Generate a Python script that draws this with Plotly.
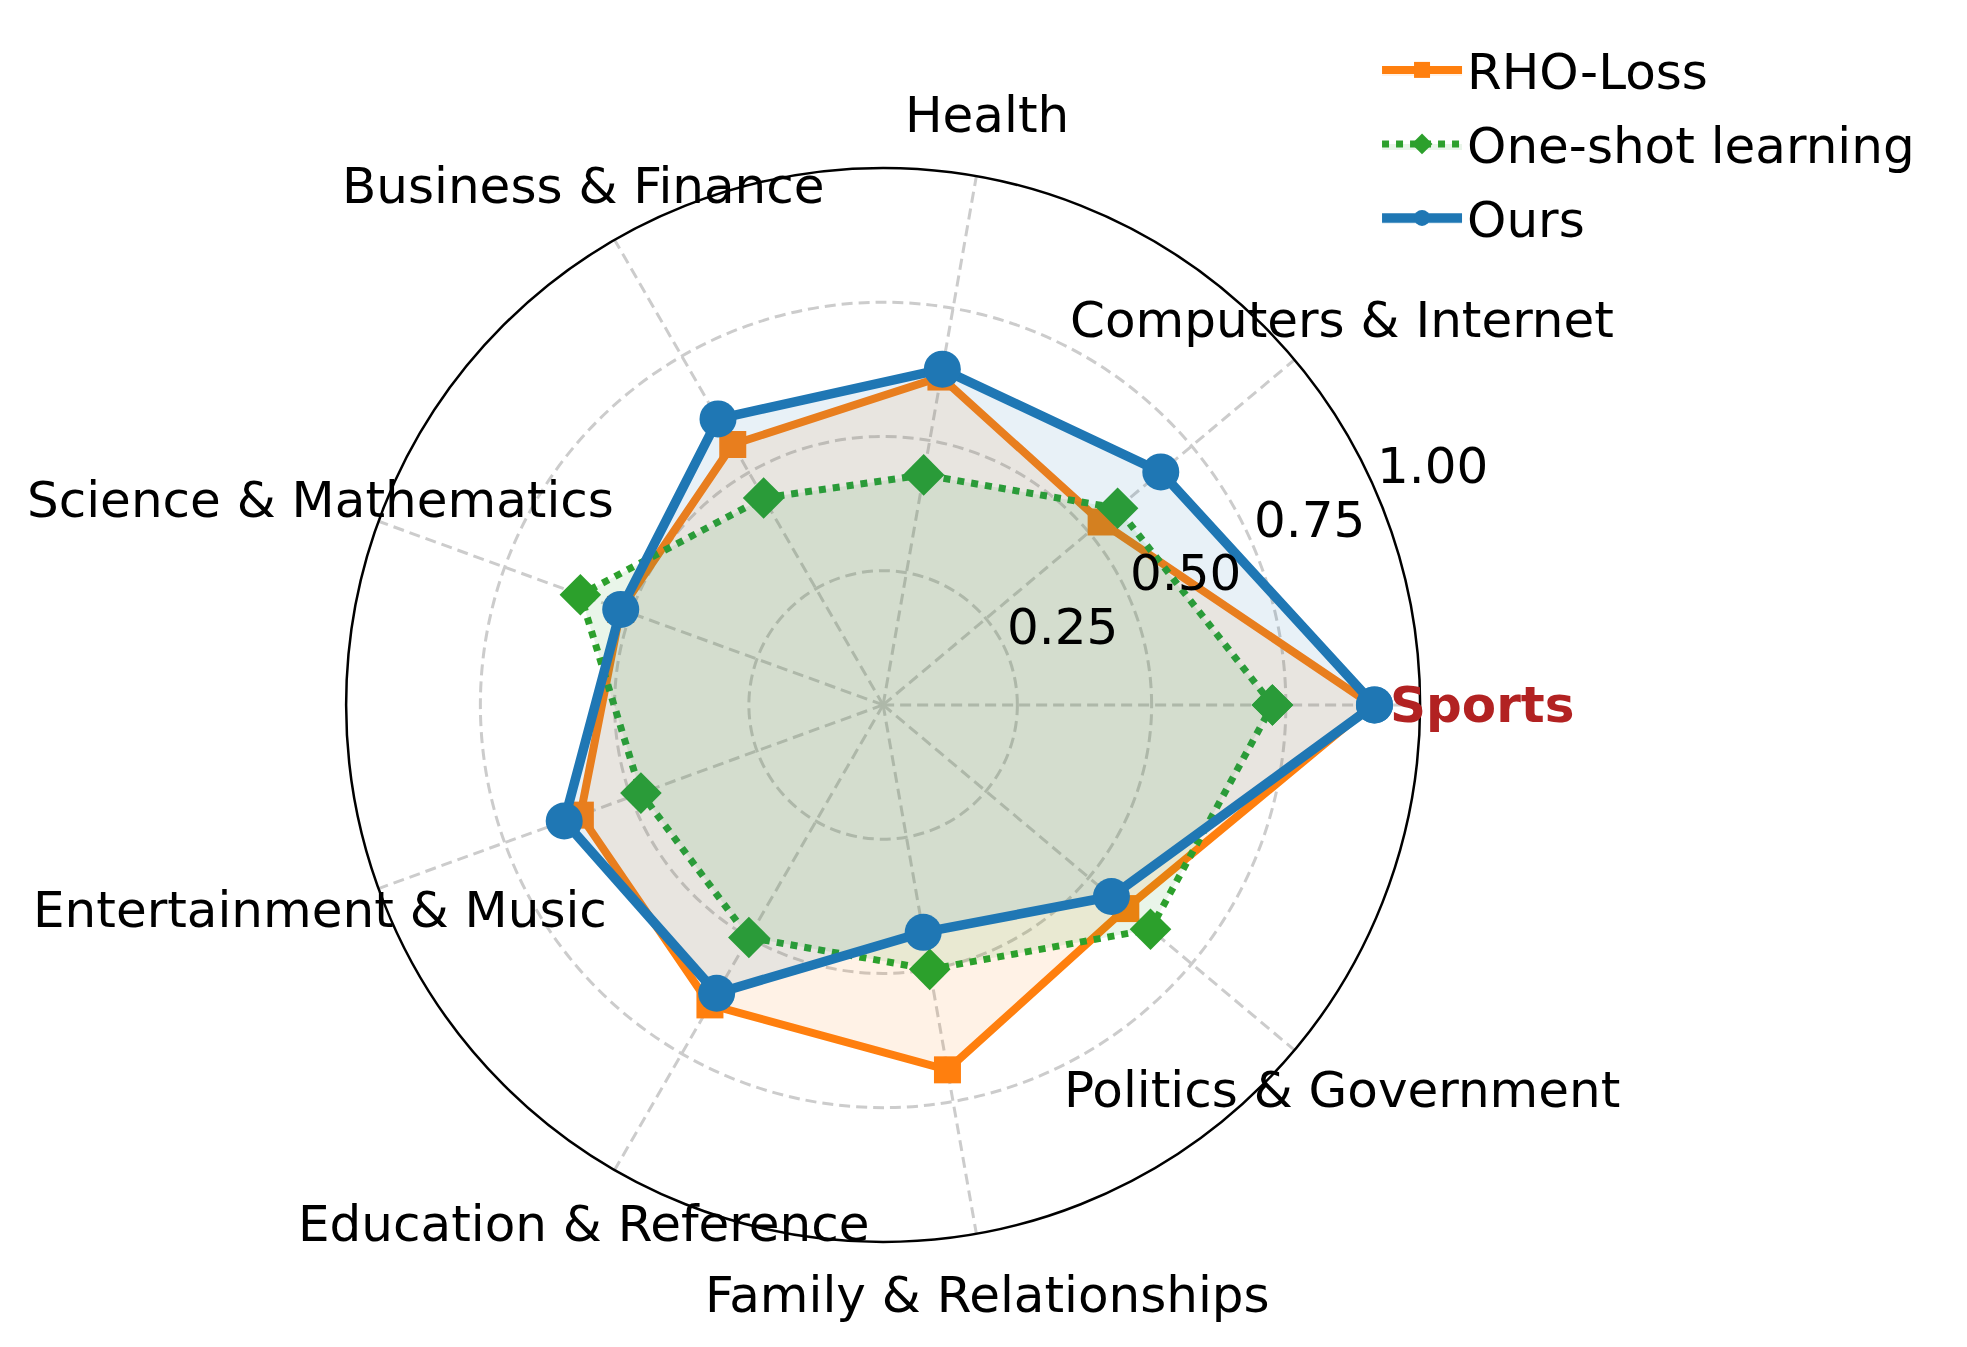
import math
import plotly.graph_objects as go

categories = ['Sports', 'Computers & Internet', 'Health', 'Business & Finance',
              'Science & Mathematics', 'Entertainment & Music', 'Education & Reference',
              'Family & Relationships', 'Politics & Government']
rho_loss = [0.91, 0.53, 0.62, 0.56, 0.52, 0.60, 0.645, 0.69, 0.59]
one_shot = [0.725, 0.57, 0.435, 0.445, 0.60, 0.48, 0.50, 0.50, 0.65]
ours = [0.915, 0.675, 0.635, 0.615, 0.52, 0.632, 0.62, 0.43, 0.555]
r_ticks = [0.25, 0.5, 0.75, 1.0]

step = 360 / len(categories)
angles = [i * step for i in range(len(categories))]

FONT = 'DejaVu Sans'
FONT_SIZE = 50
LABEL_PAD = 0.115  # matplotlib-like offset of labels beyond their radius
DOMAIN_X = [0.1719, 0.7179]
DOMAIN_Y = [0.0839, 0.8813]


def closed(vals):
    return list(vals) + [vals[0]]


def polar_to_paper(r, deg):
    cx, cy = sum(DOMAIN_X) / 2, sum(DOMAIN_Y) / 2
    rx, ry = (DOMAIN_X[1] - DOMAIN_X[0]) / 2, (DOMAIN_Y[1] - DOMAIN_Y[0]) / 2
    a = math.radians(deg)
    return cx + rx * r * math.cos(a), cy + ry * r * math.sin(a)


series = [
    ('RHO-Loss', rho_loss, '#ff7f0e', 'square', 27, 'solid', 8),
    ('One-shot learning', one_shot, '#2ca02c', 'diamond', 32, 'dot', 7),
    ('Ours', ours, '#1f77b4', 'circle', 37, 'solid', 9.5),
]

fill_rgba = {'#ff7f0e': 'rgba(255,127,14,0.1)',
             '#2ca02c': 'rgba(44,160,44,0.1)',
             '#1f77b4': 'rgba(31,119,180,0.1)'}

data = []
for name, vals, color, symbol, size, dash, width in series:
    data.append(go.Scatterpolar(
        name=name,
        legendgroup=name,
        r=closed(vals),
        theta=closed(angles),
        mode='lines+markers',
        fill='toself',
        fillcolor=fill_rgba[color],
        line=dict(color=color, width=width, dash=dash),
        marker=dict(symbol=symbol, size=size, color=color),
    ))

annotations = []
# category labels, centred like matplotlib's
for cat, ang in zip(categories, angles):
    x, y = polar_to_paper(1 + LABEL_PAD, ang)
    is_sports = cat == 'Sports'
    annotations.append(dict(
        x=x, y=y, xref='paper', yref='paper', showarrow=False,
        xanchor='center', yanchor='middle',
        text=f'<b>{cat}</b>' if is_sports else cat,
        font=dict(family=FONT, size=FONT_SIZE,
                  color='#b22222' if is_sports else 'black'),
    ))

# radial tick labels near 22.5 deg
for v in r_ticks:
    x, y = polar_to_paper(v + LABEL_PAD, 23.5)
    annotations.append(dict(
        x=x, y=y, xref='paper', yref='paper', showarrow=False,
        xanchor='center', yanchor='middle', text=f'{v:.2f}',
        font=dict(family=FONT, size=FONT_SIZE, color='black'),
    ))

fig = go.Figure(data=data)
fig.update_layout(
    width=1967, height=1347,
    paper_bgcolor='white',
    margin=dict(l=0, r=0, t=0, b=0),
    font=dict(family=FONT, size=FONT_SIZE, color='black'),
    polar=dict(
        domain=dict(x=DOMAIN_X, y=DOMAIN_Y),
        bgcolor='white',
        angularaxis=dict(
            rotation=0, direction='counterclockwise',
            tickmode='array', tickvals=angles, showticklabels=False,
            showline=True, linecolor='black', linewidth=2.5,
            gridcolor='#cccccc', griddash='11px,6px', gridwidth=2.5,
            ticks='',
        ),
        radialaxis=dict(
            range=[0, 1], tickmode='array', tickvals=r_ticks,
            showticklabels=False, showline=False, ticks='',
            gridcolor='#cccccc', griddash='11px,6px', gridwidth=2.5,
        ),
    ),
    annotations=annotations,
    legend=dict(x=0.696, y=0.983, xanchor='left', yanchor='top',
                font=dict(family=FONT, size=FONT_SIZE), itemwidth=80,
                bgcolor='rgba(0,0,0,0)', tracegroupgap=6),
    showlegend=True,
)

fig.write_html('out.html')
